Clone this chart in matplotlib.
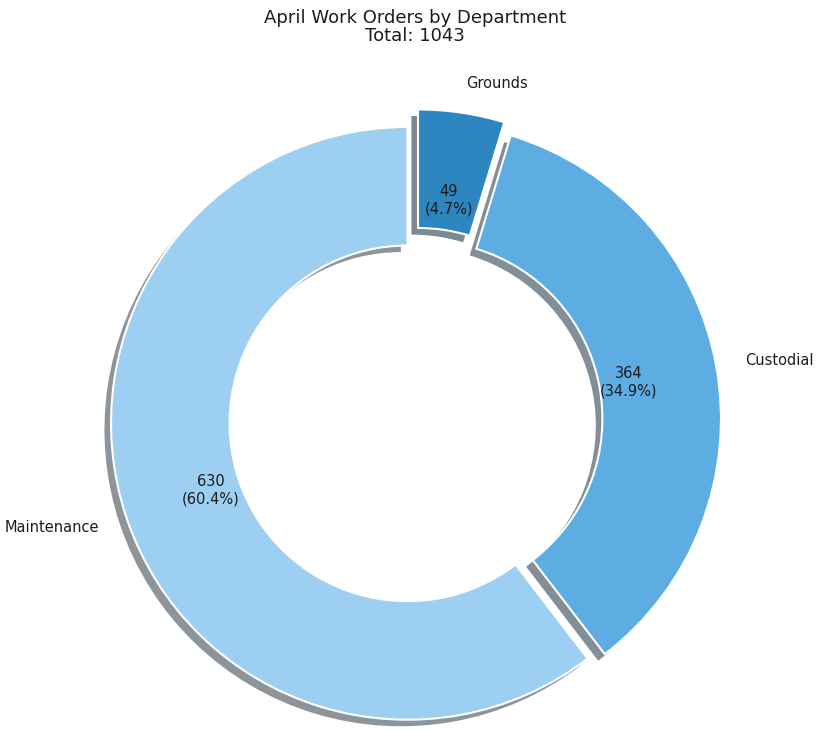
import numpy as np
import matplotlib
matplotlib.use("Agg")
import matplotlib.pyplot as plt

departments = ["Grounds", "Custodial", "Maintenance"]
work_orders = [49, 364, 630]
colors = ["#2e86c1", "#5dade2", "#9dcff2"]
explode = [0.05, 0.03, 0.03]

total = sum(work_orders)


def fmt_pct(pct):
    count = int(round(pct * total / 100.0))
    return "{}\n({:.1f}%)".format(count, pct)


fig = plt.figure(figsize=(8.16, 7.30), dpi=100)
# square axes, pie sets limits to +-1.25
ax = fig.add_axes([0.0556, -0.0835, 0.908, 1.015])

wedges, texts, autotexts = ax.pie(
    work_orders,
    labels=departments,
    colors=colors,
    explode=explode,
    startangle=90,
    counterclock=False,
    autopct=fmt_pct,
    pctdistance=0.7,
    labeldistance=1.1,
    shadow={"ox": -0.016, "oy": -0.016, "linewidth": 0, "alpha": 0.55},
    wedgeprops=dict(width=0.4, edgecolor="white", linewidth=1.5),
    textprops=dict(fontsize=10.5, color="#1c1c1c"),
)
ax.set_xlim(-1.25, 1.25)
ax.set_ylim(-1.25, 1.25)
ax.set_aspect("equal")

fig.text(0.509, 0.988, "April Work Orders by Department\nTotal: {}".format(total),
         ha="center", va="top", fontsize=13, linespacing=1.05, color="#1c1c1c")

fig.savefig("out.png", dpi=100)
